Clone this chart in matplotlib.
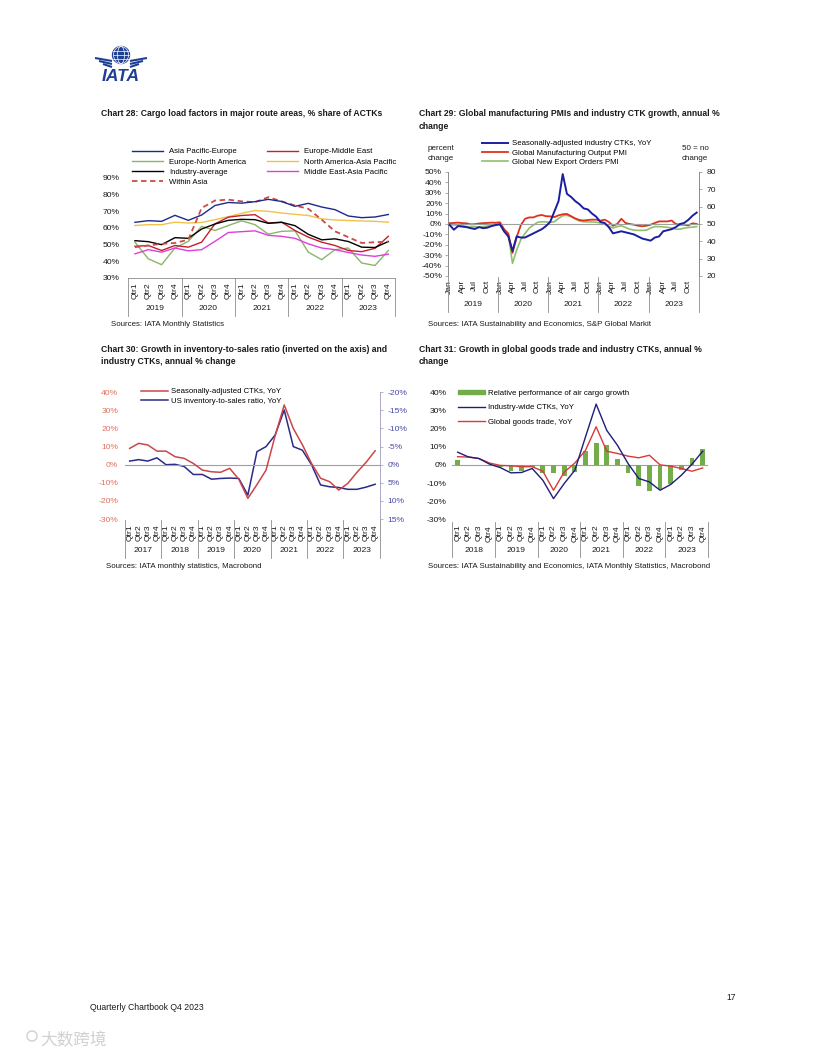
import numpy as np
import matplotlib
matplotlib.use('Agg')
import matplotlib.pyplot as plt
import matplotlib.transforms as mtransforms
from matplotlib.lines import Line2D
from matplotlib.patches import Patch, Circle, Ellipse
from matplotlib.ticker import FuncFormatter

plt.rcParams['font.family'] = ['Liberation Sans', 'DejaVu Sans']
plt.rcParams['axes.linewidth'] = 0.6

W, H = 816, 1056

# ---------------- Chart 28 data ----------------
c28_years = ['2019', '2020', '2021', '2022', '2023']
c28_qlabels = ['Qtr1', 'Qtr2', 'Qtr3', 'Qtr4']
c28_ap_eur = [63.4, 64.4, 64.0, 67.6, 64.6, 67.8, 73.5, 75.3, 74.9, 75.8, 77.2, 75.9,
              73.0, 74.8, 72.6, 71.0, 67.2, 66.2, 66.6, 68.1]
c28_eur_me = [49.0, 49.5, 46.5, 49.5, 48.5, 51.5, 62.5, 66.5, 67.5, 68.0, 63.0, 63.5,
              58.5, 54.5, 51.5, 49.5, 46.5, 45.8, 47.8, 55.0]
c28_eur_nam = [51.5, 41.5, 38.0, 48.0, 52.0, 61.0, 58.5, 61.5, 64.3, 62.0, 56.3, 58.0,
               58.3, 45.5, 41.0, 47.0, 48.0, 39.0, 37.5, 46.5]
c28_nam_ap = [61.5, 62.0, 62.0, 63.5, 63.0, 63.3, 65.0, 66.8, 68.8, 70.5, 70.0, 69.0,
              68.2, 67.5, 65.5, 64.8, 64.5, 64.2, 64.0, 63.5]
c28_industry = [52.4, 51.8, 50.0, 54.2, 53.8, 59.4, 62.4, 64.6, 65.2, 65.0, 62.8, 63.4,
                61.4, 56.2, 52.9, 53.5, 51.9, 48.5, 48.3, 51.9]
c28_me_ap = [44.5, 47.0, 45.5, 48.0, 46.3, 47.0, 52.0, 57.3, 57.8, 58.3, 55.6, 55.0,
             53.8, 50.5, 48.0, 47.0, 45.3, 43.8, 43.0, 44.3]
c28_within_asia = [48.5, 49.5, 50.5, 51.0, 53.0, 72.0, 76.5, 77.0, 76.0, 75.5, 78.5, 76.0,
                   73.5, 71.5, 65.0, 58.0, 54.5, 51.0, 51.5, 51.8]

# ---------------- Chart 29 data (monthly, Jan 2019 - Dec 2023) ----------------
c29_years = ['2019', '2020', '2021', '2022', '2023']
c29_mlabels = ['Jan', 'Apr', 'Jul', 'Oct']
c29_ctk = [-1, -5.5, -2, -2.5, -3, -4, -4.8, -3, -4, -3.5, -2, -1,
           -0.3, -7, -12, -26, -12, -13, -13, -11, -9, -7, -5, -2,
           2, 12, 22, 48, 29, 26, 22, 19, 15, 14, 10, 7,
           2, 1, -3, -9, -8, -7, -8, -9, -10, -12, -14, -15,
           -16, -13, -12, -7, -6, -5, -3, 0, 1, 4, 8, 11]
c29_output_pmi = [50.5, 50.6, 50.8, 50.5, 50.4, 49.8, 49.9, 50.3, 50.5, 50.6, 50.8, 50.7,
                  51.0, 47.0, 44.5, 33.3, 42.5, 49.4, 53.0, 53.8, 53.8, 54.8, 55.2, 54.5,
                  54.4, 54.0, 55.0, 55.6, 55.8, 54.5, 53.2, 52.3, 52.0, 52.3, 52.5, 52.5,
                  51.9, 52.5, 51.2, 49.0, 50.0, 53.0, 50.6, 50.0, 49.6, 49.0, 48.7, 49.0,
                  49.6, 50.6, 51.5, 51.5, 51.5, 52.0, 50.0, 49.6, 49.6, 49.2, 50.4, 50.0]
c29_export_pmi = [49.5, 49.5, 49.2, 49.0, 48.6, 48.3, 48.5, 48.2, 48.5, 48.8, 49.5, 49.8,
                  49.8, 45.5, 44.0, 27.3, 35.0, 41.0, 44.6, 47.6, 49.4, 51.0, 51.3, 51.2,
                  51.0, 51.3, 53.2, 54.8, 55.0, 54.2, 52.9, 51.7, 51.3, 51.2, 51.2, 51.0,
                  50.6, 50.0, 48.7, 47.7, 48.5, 49.0, 48.0, 47.0, 46.5, 46.3, 46.3, 46.5,
                  47.7, 48.5, 48.5, 48.3, 48.1, 47.7, 47.0, 47.0, 47.6, 48.0, 48.2, 48.5]

# ---------------- Chart 30 data (quarterly, 2017Q1 - 2023Q4) ----------------
c30_years = ['2017', '2018', '2019', '2020', '2021', '2022', '2023']
c30_ctk = [9.0, 11.8, 10.9, 7.5, 7.5, 4.4, 3.5, 0.7, -3.0, -3.9, -4.2, -2.0,
           -8.0, -18.6, -11.0, -3.0, 16.0, 33.0, 20.0, 11.0, 0.7, -7.5, -9.4, -14.0,
           -10.3, -4.2, 1.3, 7.7]
c30_inventory = [-1.0, -1.4, -1.0, -1.9, 0.0, -0.1, 0.5, 2.7, 2.7, 4.0, 3.8, 3.7,
                 3.8, 8.4, -3.6, -5.0, -8.2, -15.1, -5.0, -4.0, 0.0, 5.6, 6.1, 6.3,
                 6.8, 6.8, 6.2, 5.4]

# ---------------- Chart 31 data (quarterly, 2018Q1 - 2023Q4) ----------------
c31_years = ['2018', '2019', '2020', '2021', '2022', '2023']
c31_relative = [2.5, 0.2, -0.3, -0.4, -1.2, -3.5, -3.2, -1.2, -4.5, -4.5, -6.0, -4.0,
                7.5, 12.0, 11.0, 3.5, -4.5, -11.5, -14.5, -13.5, -10.5, -3.0, 4.0, 9.0]
c31_ctk = [7.0, 4.4, 3.5, 0.4, -1.5, -4.4, -4.2, -2.0, -8.5, -18.6, -10.3, -3.0,
           15.4, 33.5, 19.0, 10.8, 0.7, -7.5, -9.4, -14.0, -10.8, -5.7, 0.4, 7.5]
c31_trade = [4.5, 4.3, 3.5, 1.0, -0.3, -0.5, -1.0, -1.0, -3.5, -14.0, -4.0, 1.0,
             8.0, 21.0, 7.5, 6.3, 4.8, 3.9, 5.3, 0.0, -0.7, -2.0, -3.5, -1.7]

# ------------------------------------------------------------------
fig = plt.figure(figsize=(W / 100, H / 100), dpi=100)

TXT = '#1a1a1a'
SEP = '#8c8c8c'
TFS = 6.1   # tick font size
LFS = 5.6   # legend font size


def rect(x0, y0, x1, y1):
    return [x0 / W, 1 - y1 / H, (x1 - x0) / W, (y1 - y0) / H]


def ftext(x, y, s, **kw):
    fig.text(x / W, 1 - y / H, s, **kw)


def pct_fmt(v, pos):
    return '%d%%' % round(v)


def multilevel(ax, n, per, groups, ticks, ticklabels, axis_bottom_px, sep_bottom_px, year_y_px, pad):
    ax.set_xlim(-0.5, n - 0.5)
    ax.set_xticks(ticks)
    ax.set_xticklabels(ticklabels, rotation=90, fontsize=TFS, color=TXT)
    ax.tick_params(axis='x', length=0, pad=pad)
    trans = mtransforms.blended_transform_factory(ax.transData, fig.transFigure)
    for k in range(len(groups) + 1):
        x = k * per - 0.5
        ax.plot([x, x], [1 - axis_bottom_px / H, 1 - sep_bottom_px / H], transform=trans,
                color=SEP, lw=0.6, clip_on=False)
    for k, g in enumerate(groups):
        ax.text(k * per + (per - 1) / 2, 1 - year_y_px / H, g, transform=trans,
                ha='center', va='center', fontsize=TFS, color=TXT)


# ---------------- background / decorations ----------------
bg = fig.add_axes([0, 0, 1, 1], zorder=-5)
bg.set_xlim(0, W)
bg.set_ylim(H, 0)
bg.axis('off')
LOGO = '#1f3f93'
bg.add_patch(Circle((121, 55), 8.5, color=LOGO))
for wdt in [3.5, 7.5]:
    bg.add_patch(Ellipse((121, 55), wdt * 2, 17, fill=False, ec='white', lw=0.5))
for yy in [51, 55, 59]:
    bg.plot([113, 129], [yy, yy], color='white', lw=0.5)
for i, yy in enumerate([61, 64, 67]):
    bg.plot([95 + 4 * i, 112], [yy - 3, yy], color=LOGO, lw=1.5, solid_capstyle='butt')
    bg.plot([147 - 4 * i, 130], [yy - 3, yy], color=LOGO, lw=1.5, solid_capstyle='butt')
bg.text(121, 76.5, 'IATA', ha='center', va='center', fontsize=12.5, fontweight='bold',
        fontstyle='italic', color=LOGO)

ftext(90, 1008, 'Quarterly Chartbook Q4 2023', fontsize=6.2, color=TXT, va='center')
ftext(726, 997, '17', fontsize=6.2, color=TXT, va='center')
ftext(40, 1041, '大数跨境', fontsize=12, color='#d0d0d0', va='center',
      family=['Noto Sans CJK SC', 'DejaVu Sans'])
bg.add_patch(Circle((32, 1036), 5, fill=False, ec='#d0d0d0', lw=1))

# Titles and sources
TT = dict(fontsize=6.2, fontweight='bold', color=TXT, va='center')
ftext(101, 114, 'Chart 28: Cargo load factors in major route areas, % share of ACTKs', **TT)
ftext(419, 114, 'Chart 29: Global manufacturing PMIs and industry CTK growth, annual %', **TT)
ftext(419, 126, 'change', **TT)
ftext(101, 350, 'Chart 30: Growth in inventory-to-sales ratio (inverted on the axis) and', **TT)
ftext(101, 362, 'industry CTKs, annual % change', **TT)
ftext(419, 350, 'Chart 31: Growth in global goods trade and industry CTKs, annual %', **TT)
ftext(419, 362, 'change', **TT)
ST = dict(fontsize=5.7, color=TXT, va='center')
ftext(111, 325, 'Sources: IATA Monthly Statistics', **ST)
ftext(428, 325, 'Sources: IATA Sustainability and Economics, S&P Global Markit', **ST)
ftext(106, 567, 'Sources: IATA monthly statistics, Macrobond', **ST)
ftext(428, 566, 'Sources: IATA Sustainability and Economics, IATA Monthly Statistics, Macrobond', **ST)

# ---------------- Chart 28 ----------------
ax = fig.add_axes(rect(128.3, 178, 395, 278))
x = np.arange(len(c28_ap_eur))
series28 = [
    ('Asia Pacific-Europe', c28_ap_eur, '#1c2a8a', '-'),
    ('Europe-North America', c28_eur_nam, '#8cb56a', '-'),
    ('Industry-average', c28_industry, '#000000', '-'),
    ('Within Asia', c28_within_asia, '#cc4b45', '--'),
    ('Europe-Middle East', c28_eur_me, '#c3202a', '-'),
    ('North America-Asia Pacific', c28_nam_ap, '#f0c24a', '-'),
    ('Middle East-Asia Pacific', c28_me_ap, '#dd3fdd', '-'),
]
draw_order = [5, 1, 6, 4, 2, 3, 0]
lines = {}
for i in draw_order:
    lab, vals, col, ls = series28[i]
    lw = 1.3 if ls == '--' else 1.0
    ln, = ax.plot(x, vals, color=col, lw=lw, ls=ls, dashes=(3, 2) if ls == '--' else (None, None))
    lines[i] = ln
ax.set_ylim(30, 90)
ax.set_yticks(np.arange(30, 91, 10))
ax.yaxis.set_major_formatter(FuncFormatter(pct_fmt))
ax.tick_params(axis='y', length=0, labelsize=TFS, colors=TXT, pad=6)
for s in ['top', 'right', 'left']:
    ax.spines[s].set_visible(False)
ax.spines['bottom'].set_color(SEP)
ax.patch.set_alpha(0)
multilevel(ax, 20, 4, c28_years, list(range(20)), c28_qlabels * 5, 278, 316, 309, 3)
ax.legend([lines[i] for i in range(7)], [series28[i][0] for i in range(7)], ncol=2,
          loc='upper left', bbox_to_anchor=(132 / W, 1 - 148 / H), bbox_transform=fig.transFigure,
          frameon=False, fontsize=LFS, handlelength=4.0, handletextpad=0.8, columnspacing=2.6,
          labelspacing=0.34, borderpad=0, borderaxespad=0)

# ---------------- Chart 29 ----------------
ax = fig.add_axes(rect(447.6, 172, 698.8, 276))
ax2 = ax.twinx()
x = np.arange(len(c29_ctk))
ax.axhline(0, color='#a0a0a0', lw=0.8, zorder=1)
l_exp, = ax2.plot(x, c29_export_pmi, color='#8fc06b', lw=1.2, zorder=2)
l_out, = ax2.plot(x, c29_output_pmi, color='#e0301e', lw=1.3, zorder=3)
l_ctk, = ax.plot(x, c29_ctk, color='#1a1fa0', lw=1.4, zorder=4)
ax.set_zorder(ax2.get_zorder() + 1)
ax.patch.set_visible(False)
ax.set_ylim(-50, 50)
ax.set_yticks(np.arange(-50, 51, 10))
ax.yaxis.set_major_formatter(FuncFormatter(pct_fmt))
ax2.set_ylim(20, 80)
ax2.set_yticks(np.arange(20, 81, 10))
ax.tick_params(axis='y', length=2.5, width=0.5, labelsize=TFS, colors=TXT, pad=1.5, color=SEP)
ax2.tick_params(axis='y', length=2.5, width=0.5, labelsize=TFS, colors=TXT, pad=3, color=SEP)
for a in (ax, ax2):
    a.spines['top'].set_visible(False)
    a.spines['bottom'].set_visible(False)
    a.spines['left'].set_color(SEP)
    a.spines['right'].set_color(SEP)
ticks29 = [y * 12 + m for y in range(5) for m in (0, 3, 6, 9)]
multilevel(ax, 60, 12, c29_years, ticks29, c29_mlabels * 5, 277, 312, 305, 3)
ax.legend([l_ctk, l_out, l_exp],
          ['Seasonally-adjusted industry CTKs, YoY', 'Global Manufacturing Output PMI',
           'Global New Export Orders PMI'],
          loc='upper left', bbox_to_anchor=(482 / W, 1 - 140 / H), bbox_transform=fig.transFigure,
          frameon=False, fontsize=LFS, handlelength=3.3, handletextpad=0.5,
          labelspacing=0.25, borderpad=0, borderaxespad=0)
ftext(428, 149, 'percent', fontsize=5.8, color=TXT, va='center')
ftext(428, 158, 'change', fontsize=5.8, color=TXT, va='center')
ftext(682, 149, '50 = no', fontsize=5.8, color=TXT, va='center')
ftext(682, 158, 'change', fontsize=5.8, color=TXT, va='center')

# ---------------- Chart 30 ----------------
ax = fig.add_axes(rect(125.1, 392.3, 379.7, 519))
ax2 = ax.twinx()
x = np.arange(len(c30_ctk))
ax.axhline(0, color='#a0a0a0', lw=0.8, zorder=1)
l_inv, = ax2.plot(x, c30_inventory, color='#2b2a86', lw=1.1, zorder=2)
l_c30, = ax.plot(x, c30_ctk, color='#c9474a', lw=1.1, zorder=3)
ax.set_zorder(ax2.get_zorder() + 1)
ax.patch.set_visible(False)
ax.set_ylim(-30, 40)
ax.set_yticks(np.arange(-30, 41, 10))
ax.yaxis.set_major_formatter(FuncFormatter(pct_fmt))
ax2.set_ylim(15, -20)
ax2.set_yticks(np.arange(-20, 16, 5))
ax2.yaxis.set_major_formatter(FuncFormatter(pct_fmt))
ax.tick_params(axis='y', length=0, labelsize=TFS, colors='#e0705c', pad=5)
ax2.tick_params(axis='y', length=2.5, width=0.5, labelsize=TFS, labelcolor='#4a4aa8', color='#9a9ac0', pad=3)
for a in (ax, ax2):
    for s in ['top', 'bottom', 'left', 'right']:
        a.spines[s].set_visible(False)
ax2.spines['right'].set_visible(True)
ax2.spines['right'].set_color('#9a9ac0')
multilevel(ax, 28, 4, c30_years, list(range(28)), c28_qlabels * 7, 520, 558, 551, 4)
ax.legend([l_c30, l_inv], ['Seasonally-adjusted CTKs, YoY', 'US inventory-to-sales ratio, YoY'],
          loc='upper left', bbox_to_anchor=(141 / W, 1 - 388 / H), bbox_transform=fig.transFigure,
          frameon=False, fontsize=LFS, handlelength=3.5, handletextpad=0.4,
          labelspacing=0.3, borderpad=0, borderaxespad=0)

# ---------------- Chart 31 ----------------
ax = fig.add_axes(rect(452.3, 392.3, 708, 519.3))
x = np.arange(len(c31_ctk))
ax.axhline(0, color='#a0a0a0', lw=0.8, zorder=1)
b31 = ax.bar(x, c31_relative, width=0.45, color='#72ad4a', zorder=2)
l_tr, = ax.plot(x, c31_trade, color='#d9393a', lw=1.0, zorder=3)
l_c31, = ax.plot(x, c31_ctk, color='#1c1f78', lw=1.0, zorder=4)
ax.set_ylim(-30, 40)
ax.set_yticks(np.arange(-30, 41, 10))
ax.yaxis.set_major_formatter(FuncFormatter(pct_fmt))
ax.tick_params(axis='y', length=0, labelsize=TFS, colors=TXT, pad=4)
for s in ['top', 'bottom', 'left', 'right']:
    ax.spines[s].set_visible(False)
multilevel(ax, 24, 4, c31_years, list(range(24)), c28_qlabels * 6, 522, 557, 551, 4)
ax.legend([Patch(color='#72ad4a'), l_c31, l_tr],
          ['Relative performance of air cargo growth', 'Industry-wide CTKs, YoY', 'Global goods trade, YoY'],
          loc='upper left', bbox_to_anchor=(458 / W, 1 - 390 / H), bbox_transform=fig.transFigure,
          frameon=False, fontsize=LFS, handlelength=3.5, handleheight=0.5, handletextpad=0.4,
          labelspacing=0.95, borderpad=0, borderaxespad=0)

fig.savefig('out.png', dpi=100)
